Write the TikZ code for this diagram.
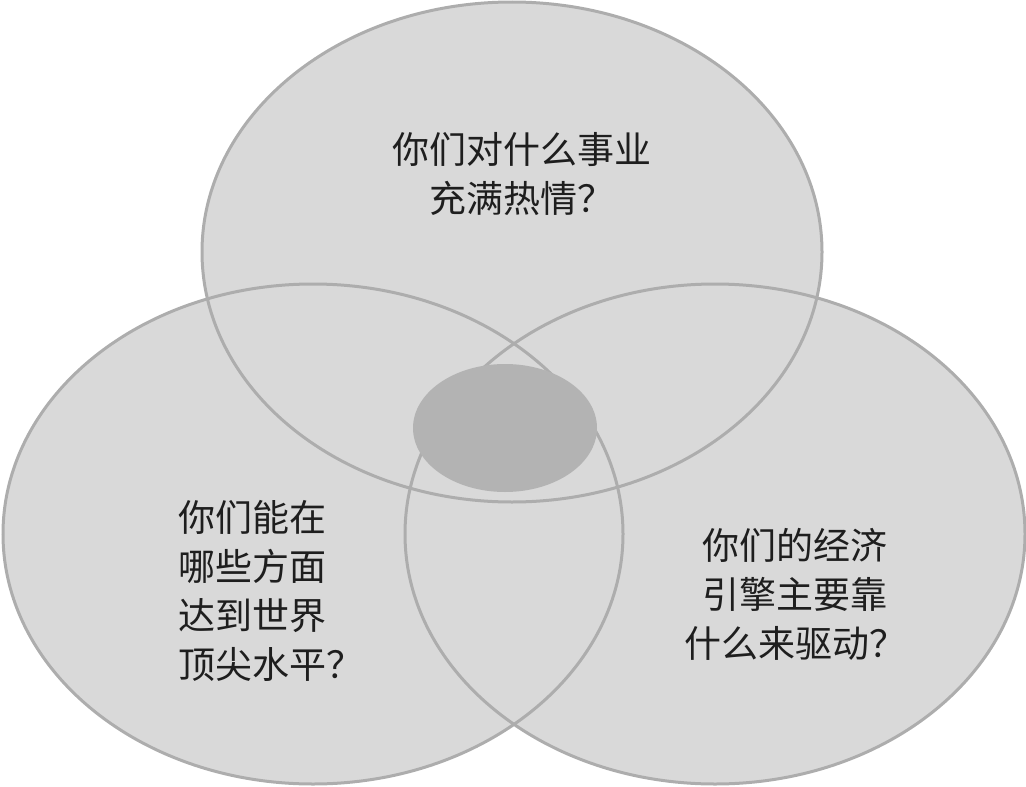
\documentclass[tikz,border=0pt]{standalone}
\usepackage{fontspec}
\setmainfont{Noto Sans CJK SC}
\usepackage{tikz}
\usetikzlibrary{positioning}
\definecolor{ringfill}{HTML}{D9D9D9}
\definecolor{ringline}{HTML}{ADADAD}
\definecolor{corefill}{HTML}{B3B3B3}
\definecolor{inktext}{HTML}{1E1E1E}

\begin{document}
\begin{tikzpicture}[
  x=1pt, y=-1pt,
  ring/.style={fill=ringfill},
  rim/.style={draw=ringline, line width=3pt},
  core/.style={fill=corefill},
  question/.style={text=inktext, font=\fontsize{37}{49}\selectfont, inner sep=0pt}
]
\useasboundingbox (0,0) rectangle (1026,787);

% three rings, filled first, then outlined
\foreach \cx/\cy in {512/252, 313/534, 715/534}
  \fill[ring] (\cx,\cy) ellipse [x radius=310pt, y radius=250pt];
\foreach \cx/\cy in {512/252, 313/534, 715/534}
  \draw[rim] (\cx,\cy) ellipse [x radius=310pt, y radius=250pt];

% the sweet spot
\fill[core] (505,428) ellipse [x radius=92pt, y radius=64pt];

\node[question, align=center] (passion) at (522,174) {你们对什么事业\\充满热情？};
\node[question, align=left, anchor=west] (best) at (178,591) {你们能在\\哪些方面\\达到世界\\顶尖水平？};
\node[question, align=center] (engine) at (795,594) {你们的经济\\引擎主要靠\\什么来驱动？};
\end{tikzpicture}
\end{document}
